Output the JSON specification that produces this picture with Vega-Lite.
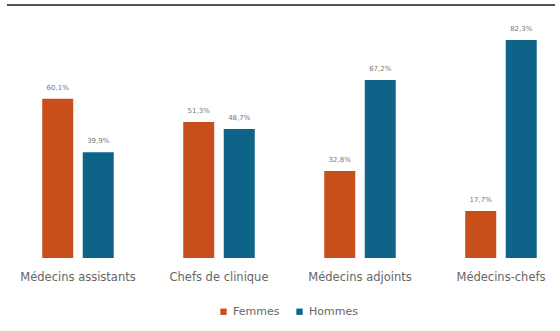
{
  "$schema": "https://vega.github.io/schema/vega-lite/v6.json",
  "width": 548,
  "height": 253,
  "autosize": {"type": "none"},
  "padding": {"left": 7, "top": 5, "right": 5, "bottom": 73},
  "config": {
    "view": {"stroke": null},
    "font": "DejaVu Sans",
    "axis": {"labelFont": "DejaVu Sans", "labelColor": "#666666"},
    "legend": {"labelFont": "DejaVu Sans", "labelColor": "#666666"}
  },
  "data": {
    "values": [
      {"categorie": "Médecins assistants", "sexe": "Femmes", "valeur": 60.1, "label": "60,1%"},
      {"categorie": "Médecins assistants", "sexe": "Hommes", "valeur": 39.9, "label": "39,9%"},
      {"categorie": "Chefs de clinique", "sexe": "Femmes", "valeur": 51.3, "label": "51,3%"},
      {"categorie": "Chefs de clinique", "sexe": "Hommes", "valeur": 48.7, "label": "48,7%"},
      {"categorie": "Médecins adjoints", "sexe": "Femmes", "valeur": 32.8, "label": "32,8%"},
      {"categorie": "Médecins adjoints", "sexe": "Hommes", "valeur": 67.2, "label": "67,2%"},
      {"categorie": "Médecins-chefs", "sexe": "Femmes", "valeur": 17.7, "label": "17,7%"},
      {"categorie": "Médecins-chefs", "sexe": "Hommes", "valeur": 82.3, "label": "82,3%"}
    ]
  },
  "layer": [
    {
      "mark": {"type": "bar"},
      "encoding": {
        "x": {
          "field": "categorie", "type": "nominal", "sort": null,
          "scale": {"paddingInner": 0.4255, "paddingOuter": 0.156, "align": 0.693},
          "axis": {"title": null, "labelAngle": 0, "domain": false, "ticks": false, "labelPadding": 13, "labelFontSize": 11.5}
        },
        "xOffset": {
          "field": "sexe", "type": "nominal", "sort": ["Femmes", "Hommes"],
          "scale": {"paddingInner": 0.235, "paddingOuter": 0.117}
        },
        "y": {
          "field": "valeur", "type": "quantitative",
          "scale": {"domain": [0, 95.5], "nice": false, "zero": true},
          "axis": null
        },
        "color": {
          "field": "sexe", "type": "nominal", "sort": ["Femmes", "Hommes"],
          "scale": {"domain": ["Femmes", "Hommes"], "range": ["#C84E1A", "#0E6488"]},
          "legend": {
            "title": null, "orient": "none", "direction": "horizontal",
            "legendX": 211, "legendY": 301,
            "symbolType": "square", "symbolSize": 40, "labelFontSize": 11,
            "columnPadding": 14, "symbolOffset": 0
          }
        }
      }
    },
    {
      "mark": {"type": "text", "baseline": "bottom", "dy": -8, "fontSize": 7, "color": "#777777"},
      "encoding": {
        "x": {"field": "categorie", "type": "nominal", "sort": null},
        "xOffset": {"field": "sexe", "type": "nominal", "sort": ["Femmes", "Hommes"]},
        "y": {"field": "valeur", "type": "quantitative"},
        "text": {"field": "label"}
      }
    },
    {
      "mark": {"type": "rule", "color": "#555555", "strokeWidth": 2},
      "encoding": {"y": {"datum": 95.5}}
    }
  ]
}
